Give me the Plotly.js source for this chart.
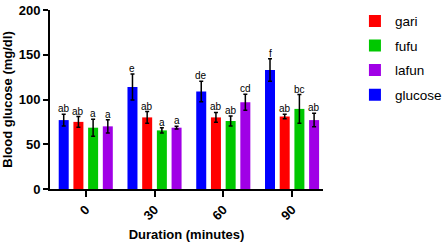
<!DOCTYPE html>
<html>
<head>
<meta charset="utf-8">
<script src="https://cdn.plot.ly/plotly-3.0.1.min.js"></script>
<style>html,body{margin:0;padding:0;background:#fff;}#chart{width:447px;height:244px;}</style>
</head>
<body>
<div id="chart"></div>
<script>
// ---- data ----
const durations = ["0", "30", "60", "90"];
const seriesNames = ["glucose", "gari", "fufu", "lafun"];
const glucose = [77, 114, 109, 133];
const glucoseErr = [6.5, 14.5, 11.5, 12.5];
const gari = [75, 80, 80, 81];
const gariErr = [6, 6.5, 5.5, 2.5];
const fufu = [68.5, 65.5, 76, 89.5];
const fufuErr = [9.5, 3, 5.5, 16];
const lafun = [70, 68.5, 97, 77];
const lafunErr = [7.5, 1.5, 9, 7.5];
const glucoseLetters = ["ab", "e", "de", "f"];
const gariLetters = ["ab", "ab", "ab", "ab"];
const fufuLetters = ["a", "a", "ab", "bc"];
const lafunLetters = ["a", "a", "cd", "ab"];

// ---- style ----
const colors = {glucose: "#0000FF", gari: "#FF0000", fufu: "#00C800", lafun: "#A000E6"};
const legendRank = {gari: 1, fufu: 2, lafun: 3, glucose: 4};
const FONT = "Liberation Sans, Arial, sans-serif";
const bargap = 0.145, bargroupgap = 0.32;

const values = {glucose, gari, fufu, lafun};
const errs = {glucose: glucoseErr, gari: gariErr, fufu: fufuErr, lafun: lafunErr};
const letters = {glucose: glucoseLetters, gari: gariLetters, fufu: fufuLetters, lafun: lafunLetters};

const traces = seriesNames.map(name => ({
  type: "bar",
  name: name,
  x: durations,
  y: values[name],
  marker: {color: colors[name], line: {width: 0}},
  error_y: {type: "data", array: errs[name], visible: true, color: "#000", thickness: 1.5, width: 2},
  legendgroup: name,
  legendrank: legendRank[name]
}));

const annotations = [];
const n = seriesNames.length;
const slot = (1 - bargap) / n;
seriesNames.forEach((name, k) => {
  const off = -(1 - bargap) / 2 + (k + 0.5) * slot;
  durations.forEach((d, i) => {
    annotations.push({
      xref: "x", yref: "y",
      x: i + off, y: values[name][i] + errs[name][i],
      text: letters[name][i], showarrow: false,
      yanchor: "bottom", xanchor: "center",
      font: {family: FONT, size: 10, color: "#000"},
      borderpad: 0, yshift: -1
    });
  });
});

const layout = {
  width: 447, height: 244,
  margin: {l: 50, r: 124, t: 10, b: 55, autoexpand: false},
  paper_bgcolor: "#fff", plot_bgcolor: "#fff",
  barmode: "group", bargap: bargap, bargroupgap: bargroupgap,
  font: {family: FONT, color: "#000"},
  showlegend: true,
  legend: {
    x: 1.117, y: 1.024, xanchor: "left", yanchor: "top",
    traceorder: "grouped", tracegroupgap: 4,
    font: {family: FONT, size: 13.5, color: "#000"},
    bgcolor: "rgba(0,0,0,0)"
  },
  xaxis: {
    type: "category",
    range: [-0.52, 3.45],
    showline: true, linecolor: "#000", linewidth: 2,
    ticks: "outside", ticklen: 6, tickwidth: 2, tickcolor: "#000",
    tickangle: -45,
    tickfont: {family: FONT, size: 13, color: "#000", weight: "bold"},
    showgrid: false, zeroline: false,
    title: {text: "<b>Duration (minutes)</b>", font: {family: FONT, size: 13, color: "#000"}, standoff: 8}
  },
  yaxis: {
    range: [0, 200], tickvals: [0, 50, 100, 150, 200],
    showline: true, linecolor: "#000", linewidth: 2,
    ticks: "outside", ticklen: 5, tickwidth: 2, tickcolor: "#000",
    tickfont: {family: FONT, size: 13, color: "#000", weight: "bold"},
    showgrid: false, zeroline: false,
    title: {text: "<b>Blood glucose (mg/dl)</b>", font: {family: FONT, size: 13, color: "#000"}, standoff: 6}
  },
  annotations: annotations
};

Plotly.newPlot("chart", traces, layout, {displayModeBar: false, staticPlot: true});
</script>
</body>
</html>
